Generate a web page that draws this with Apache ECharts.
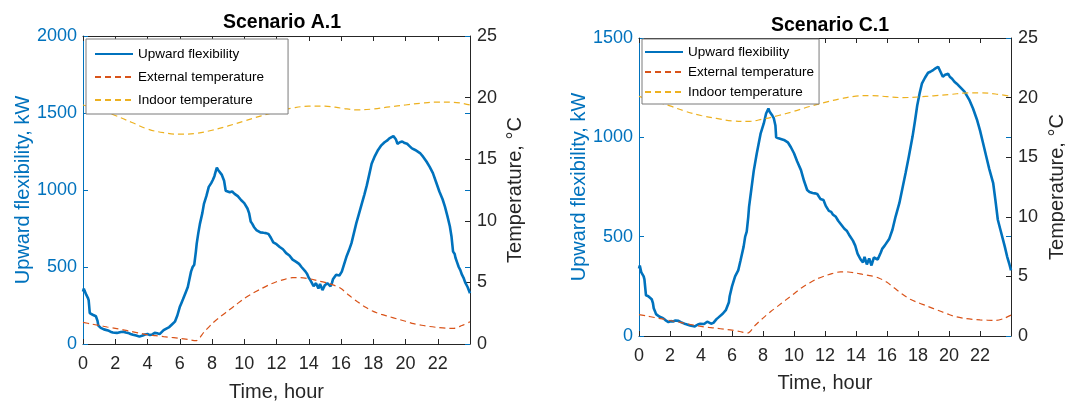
<!DOCTYPE html>
<html>
<head>
<meta charset="utf-8">
<script src="https://cdn.jsdelivr.net/npm/echarts@6/dist/echarts.min.js"></script>
<style>
html,body{margin:0;padding:0;background:#fff;}
#c{width:1065px;height:403px;}
</style>
</head>
<body>
<div id="c"></div>
<script>
// ---------- DATA ----------
const titles = ['Scenario A.1', 'Scenario C.1'];
const seriesNames = ['Upward flexibility', 'External temperature', 'Indoor temperature'];
const xTicks = [0, 2, 4, 6, 8, 10, 12, 14, 16, 18, 20, 22];

// Scenario A.1 — upward flexibility [hour, kW]
const flexA = [[0,340],[0.05,360],[0.1,345],[0.15,352],[0.2,320],[0.3,300],[0.35,285],[0.38,250],[0.42,200],[0.5,195],[0.6,190],[0.7,185],[0.8,180],[0.85,170],[0.9,150],[0.95,120],[1.0,115],[1.1,105],[1.2,100],[1.3,95],[1.4,92],[1.55,88],[1.7,80],[1.85,75],[1.95,68],[2.1,72],[2.2,75],[2.35,78],[2.5,80],[2.65,75],[2.8,72],[2.95,65],[3.1,60],[3.3,55],[3.5,48],[3.6,52],[3.7,55],[3.85,62],[4.0,65],[4.15,58],[4.3,62],[4.45,72],[4.6,70],[4.75,64],[4.85,68],[5.0,90],[5.1,95],[5.2,102],[5.35,110],[5.5,125],[5.6,135],[5.7,145],[5.85,185],[6.0,240],[6.1,265],[6.2,290],[6.35,330],[6.5,370],[6.6,420],[6.7,470],[6.8,500],[6.9,515],[7.0,600],[7.05,650],[7.15,720],[7.25,780],[7.4,850],[7.5,910],[7.65,960],[7.8,1020],[7.95,1045],[8.05,1065],[8.15,1090],[8.2,1110],[8.3,1145],[8.38,1130],[8.45,1120],[8.5,1125],[8.6,1100],[8.7,1090],[8.75,1060],[8.8,1050],[8.85,995],[8.95,990],[9.1,985],[9.25,990],[9.4,975],[9.6,960],[9.8,935],[10.0,915],[10.2,880],[10.3,850],[10.4,795],[10.5,780],[10.6,760],[10.75,740],[10.85,728],[11.0,725],[11.2,722],[11.35,720],[11.5,715],[11.6,705],[11.65,690],[11.75,700],[11.8,660],[11.9,672],[12.0,648],[12.1,655],[12.2,630],[12.3,640],[12.4,615],[12.5,622],[12.6,590],[12.7,600],[12.8,575],[12.9,582],[13.0,548],[13.1,560],[13.2,535],[13.3,530],[13.4,520],[13.55,500],[13.65,508],[13.8,470],[13.9,455],[14.0,430],[14.1,415],[14.2,395],[14.3,375],[14.35,370],[14.45,395],[14.5,385],[14.6,360],[14.7,390],[14.75,385],[14.85,350],[14.9,355],[15.0,382],[15.05,380],[15.15,395],[15.2,390],[15.35,375],[15.45,400],[15.5,420],[15.6,430],[15.7,450],[15.8,440],[15.9,445],[16.05,470],[16.2,520],[16.35,570],[16.5,610],[16.65,655],[16.8,720],[16.95,785],[17.1,840],[17.3,915],[17.45,970],[17.6,1030],[17.75,1100],[17.9,1170],[18.1,1220],[18.3,1260],[18.5,1290],[18.7,1310],[18.85,1320],[19.0,1335],[19.1,1340],[19.25,1350],[19.35,1345],[19.4,1330],[19.5,1300],[19.65,1310],[19.8,1315],[19.95,1305],[20.1,1300],[20.25,1285],[20.4,1270],[20.6,1260],[20.9,1240],[21.1,1215],[21.3,1185],[21.5,1150],[21.7,1110],[21.9,1050],[22.1,990],[22.3,940],[22.45,890],[22.6,830],[22.75,765],[22.85,700],[22.95,600],[23.05,585],[23.1,560],[23.2,530],[23.3,500],[23.4,480],[23.5,450],[23.6,430],[23.7,400],[23.85,370],[24,330]];

// Scenario C.1 — upward flexibility [hour, kW]
const flexC = [[0,340],[0.05,355],[0.1,345],[0.15,320],[0.2,310],[0.3,300],[0.35,285],[0.45,205],[0.6,200],[0.7,192],[0.82,185],[0.9,165],[0.95,140],[1.03,125],[1.1,110],[1.2,100],[1.3,98],[1.4,95],[1.55,90],[1.7,80],[1.8,74],[1.9,70],[2.05,75],[2.2,73],[2.35,78],[2.55,76],[2.7,70],[2.8,65],[3.0,60],[3.15,57],[3.3,53],[3.45,50],[3.6,48],[3.7,52],[3.8,58],[3.95,62],[4.05,66],[4.2,60],[4.3,62],[4.4,72],[4.5,70],[4.65,62],[4.8,66],[4.9,72],[5.0,85],[5.15,95],[5.25,104],[5.4,112],[5.5,120],[5.6,130],[5.7,140],[5.8,170],[5.85,200],[6.0,250],[6.2,300],[6.4,330],[6.55,380],[6.75,450],[6.85,500],[6.95,525],[7.05,600],[7.1,650],[7.25,740],[7.4,830],[7.6,920],[7.85,1020],[7.95,1045],[8.05,1070],[8.2,1120],[8.35,1145],[8.42,1130],[8.5,1120],[8.6,1110],[8.7,1095],[8.8,1060],[8.85,1000],[9.0,995],[9.2,990],[9.4,985],[9.6,975],[9.8,950],[10.0,920],[10.2,880],[10.45,835],[10.65,780],[10.85,735],[11.0,725],[11.2,720],[11.35,718],[11.5,715],[11.6,705],[11.7,690],[11.8,680],[11.9,685],[12.05,655],[12.15,662],[12.25,630],[12.4,625],[12.5,612],[12.6,618],[12.7,600],[12.85,580],[13.0,565],[13.1,570],[13.25,540],[13.4,530],[13.55,510],[13.65,515],[13.8,480],[13.95,455],[14.1,415],[14.2,400],[14.3,385],[14.45,370],[14.55,398],[14.6,395],[14.7,360],[14.75,355],[14.85,390],[14.9,385],[15.0,355],[15.05,360],[15.15,395],[15.25,395],[15.4,385],[15.5,390],[15.6,420],[15.7,440],[15.85,455],[15.95,450],[16.15,490],[16.35,535],[16.55,600],[16.8,670],[17.0,745],[17.2,820],[17.4,900],[17.65,1005],[17.8,1080],[17.95,1160],[18.1,1220],[18.25,1270],[18.45,1300],[18.65,1325],[18.8,1330],[19.0,1340],[19.15,1348],[19.3,1355],[19.4,1345],[19.45,1330],[19.6,1305],[19.75,1315],[19.95,1320],[20.05,1305],[20.2,1295],[20.35,1280],[20.5,1270],[20.75,1250],[21.0,1230],[21.3,1190],[21.55,1145],[21.8,1090],[22.0,1035],[22.2,970],[22.4,905],[22.6,840],[22.85,770],[23.0,680],[23.15,585],[23.3,540],[23.5,480],[23.6,450],[23.75,400],[23.9,360],[24,330]];

// Temperatures (°C)
const extHours = [0,0.5,1,1.5,2,2.5,3,3.5,4,4.5,5,5.5,6,6.5,7,7.5,8,8.5,9,9.5,10,10.5,11,11.5,12,12.5,13,13.5,14,14.5,15,15.5,16,16.5,17,17.5,18,18.5,19,19.5,20,20.5,21,21.5,22,22.5,23,23.5,24];
const extA = [1.75,1.63,1.5,1.38,1.27,1.15,1.02,0.88,0.75,0.68,0.6,0.53,0.46,0.37,0.27,0.95,1.65,2.2,2.7,3.2,3.7,4.1,4.45,4.78,5.05,5.25,5.38,5.38,5.3,5.15,5.0,4.8,4.5,3.95,3.45,3.0,2.65,2.4,2.22,2.03,1.85,1.65,1.52,1.42,1.34,1.28,1.27,1.5,1.8];
const extC = [1.8,1.68,1.55,1.43,1.3,1.18,1.05,0.92,0.8,0.72,0.65,0.57,0.5,0.38,0.25,0.9,1.5,2.05,2.55,3.05,3.55,4.05,4.45,4.8,5.05,5.25,5.38,5.37,5.28,5.15,5.05,4.85,4.5,4.0,3.5,3.08,2.8,2.55,2.3,2.05,1.8,1.6,1.48,1.4,1.35,1.32,1.3,1.45,1.75];
const inHours = [0,1,2,3,4,5,6,7,8,9,10,11,12,13,14,15,16,17,18,19,20,21,22,23,24];
const inA = [19.4,19.05,18.55,18.0,17.45,17.15,17.03,17.1,17.35,17.7,18.1,18.5,18.85,19.15,19.3,19.3,19.15,19.0,19.08,19.25,19.4,19.55,19.63,19.62,19.4];
const inC = [20.1,19.7,19.3,18.85,18.5,18.25,18.05,18.0,18.2,18.5,18.85,19.25,19.6,19.9,20.12,20.17,20.08,20.0,20.05,20.15,20.25,20.38,20.4,20.3,20.1];

// ---------- BUILD ----------
const pairs = (xs, ys) => xs.map((x, i) => [x, ys[i]]);
const FONT = 'Liberation Sans, Arial, Helvetica, sans-serif';
const BLUE = '#0072BD', ORANGE = '#D95319', YELLOW = '#EDB120', DARK = '#262626';
const TL = 5;

const panels = [
  {grid: {left: 83, top: 36, width: 387, height: 308}, flexMax: 2000, flex: flexA, ext: extA, ind: inA,
   title: titles[0], titleX: 277, titleTop: 8, xGap: 38, xMargin: 11, yGap: 46, tGap: 35,
   legend: {left: 86, top: 39, padding: [8, 24, 7, 8], itemGap: 9}},
  {grid: {left: 639, top: 38, width: 372, height: 298}, flexMax: 1500, flex: flexC, ext: extC, ind: inC,
   title: titles[1], titleX: 825, titleTop: 11, xGap: 37, xMargin: 11, yGap: 47, tGap: 36,
   legend: {left: 642, top: 39, padding: [6, 5, 5, 2], itemGap: 6}}
];

const grids = [], xAxes = [], yAxes = [], series = [], legends = [], titleList = [];
const xLabelFmt = v => (xTicks.indexOf(v) >= 0 ? String(v) : '');
const plainFmt = v => String(v);

panels.forEach((p, k) => {
  const g0 = grids.length;
  grids.push(Object.assign({containLabel: false, outerBoundsMode: 'none'}, p.grid));
  grids.push(Object.assign({containLabel: false, outerBoundsMode: 'none'}, p.grid));
  const xb = xAxes.length;
  xAxes.push({
    gridIndex: g0, type: 'value', position: 'bottom', min: 0, max: 24, interval: 2,
    axisLine: {show: true, onZero: false, lineStyle: {color: DARK, width: 1}},
    axisTick: {show: true, inside: true, length: TL, lineStyle: {color: DARK}},
    axisLabel: {show: true, fontFamily: FONT, fontSize: 18, color: DARK, margin: p.xMargin, formatter: xLabelFmt},
    splitLine: {show: false},
    name: 'Time, hour', nameLocation: 'middle', nameGap: p.xGap,
    nameTextStyle: {fontFamily: FONT, fontSize: 20, color: DARK}
  });
  xAxes.push({
    gridIndex: g0 + 1, type: 'value', position: 'top', min: 0, max: 24, interval: 2,
    axisLine: {show: true, onZero: false, lineStyle: {color: DARK, width: 1}},
    axisTick: {show: true, inside: true, length: TL, lineStyle: {color: DARK}},
    axisLabel: {show: false}, splitLine: {show: false}
  });
  const yb = yAxes.length;
  yAxes.push({
    gridIndex: g0, type: 'value', position: 'left', min: 0, max: p.flexMax, interval: 500,
    axisLine: {show: true, onZero: false, lineStyle: {color: BLUE, width: 1}},
    axisTick: {show: true, inside: true, length: TL, lineStyle: {color: BLUE}},
    axisLabel: {show: true, fontFamily: FONT, fontSize: 18, color: BLUE, margin: 6, formatter: plainFmt},
    splitLine: {show: false},
    name: 'Upward flexibility, kW', nameLocation: 'middle', nameRotate: 90, nameGap: p.yGap,
    nameTextStyle: {fontFamily: FONT, fontSize: 20, color: BLUE}
  });
  yAxes.push({
    gridIndex: g0, type: 'value', position: 'right', min: 0, max: 25, interval: 5,
    axisLine: {show: true, onZero: false, lineStyle: {color: DARK, width: 1}},
    axisTick: {show: true, inside: true, length: TL, lineStyle: {color: DARK}},
    axisLabel: {show: true, fontFamily: FONT, fontSize: 18, color: DARK, margin: 7, formatter: plainFmt},
    splitLine: {show: false},
    name: 'Temperature, °C', nameLocation: 'middle', nameRotate: 90, nameGap: p.tGap,
    nameTextStyle: {fontFamily: FONT, fontSize: 20, color: DARK}
  });
  yAxes.push({
    gridIndex: g0 + 1, type: 'value', position: 'right', min: 0, max: p.flexMax, interval: 500,
    axisLine: {show: false, onZero: false},
    axisTick: {show: true, inside: true, length: TL, lineStyle: {color: BLUE}},
    axisLabel: {show: false}, splitLine: {show: false}
  });

  series.push({
    name: seriesNames[0], type: 'line', xAxisIndex: xb, yAxisIndex: yb,
    data: p.flex, symbol: 'none', showSymbol: false,
    lineStyle: {color: BLUE, width: 2.6}, itemStyle: {color: BLUE}, z: 2
  });
  series.push({
    name: seriesNames[1], type: 'line', xAxisIndex: xb, yAxisIndex: yb + 1,
    data: pairs(extHours, p.ext), symbol: 'none', showSymbol: false, smooth: 0.3,
    lineStyle: {color: ORANGE, width: 1.2, type: [6, 4]}, itemStyle: {color: ORANGE}, z: 3
  });
  series.push({
    name: seriesNames[2], type: 'line', xAxisIndex: xb, yAxisIndex: yb + 1,
    data: pairs(inHours, p.ind), symbol: 'none', showSymbol: false, smooth: 0.4,
    lineStyle: {color: YELLOW, width: 1.2, type: [6, 4]}, itemStyle: {color: YELLOW}, z: 3
  });

  legends.push({
    data: seriesNames, orient: 'vertical', left: p.legend.left, top: p.legend.top,
    padding: p.legend.padding, itemGap: p.legend.itemGap, itemWidth: 38, itemHeight: 14,
    backgroundColor: '#fff', borderColor: '#7a7a7a', borderWidth: 1, z: 10,
    selectedMode: false, itemStyle: {opacity: 0},
    textStyle: {fontFamily: FONT, fontSize: 13.5, color: '#000'}
  });
  titleList.push({
    text: p.title, left: p.titleX, top: p.titleTop, textAlign: 'center',
    textStyle: {fontFamily: FONT, fontSize: 19.5, fontWeight: 'bold', color: '#000'}
  });
});

const chart = echarts.init(document.getElementById('c'), null, {renderer: 'canvas'});
chart.setOption({
  backgroundColor: '#fff',
  animation: false,
  title: titleList,
  legend: legends,
  grid: grids,
  xAxis: xAxes,
  yAxis: yAxes,
  series: series
});
</script>
</body>
</html>
